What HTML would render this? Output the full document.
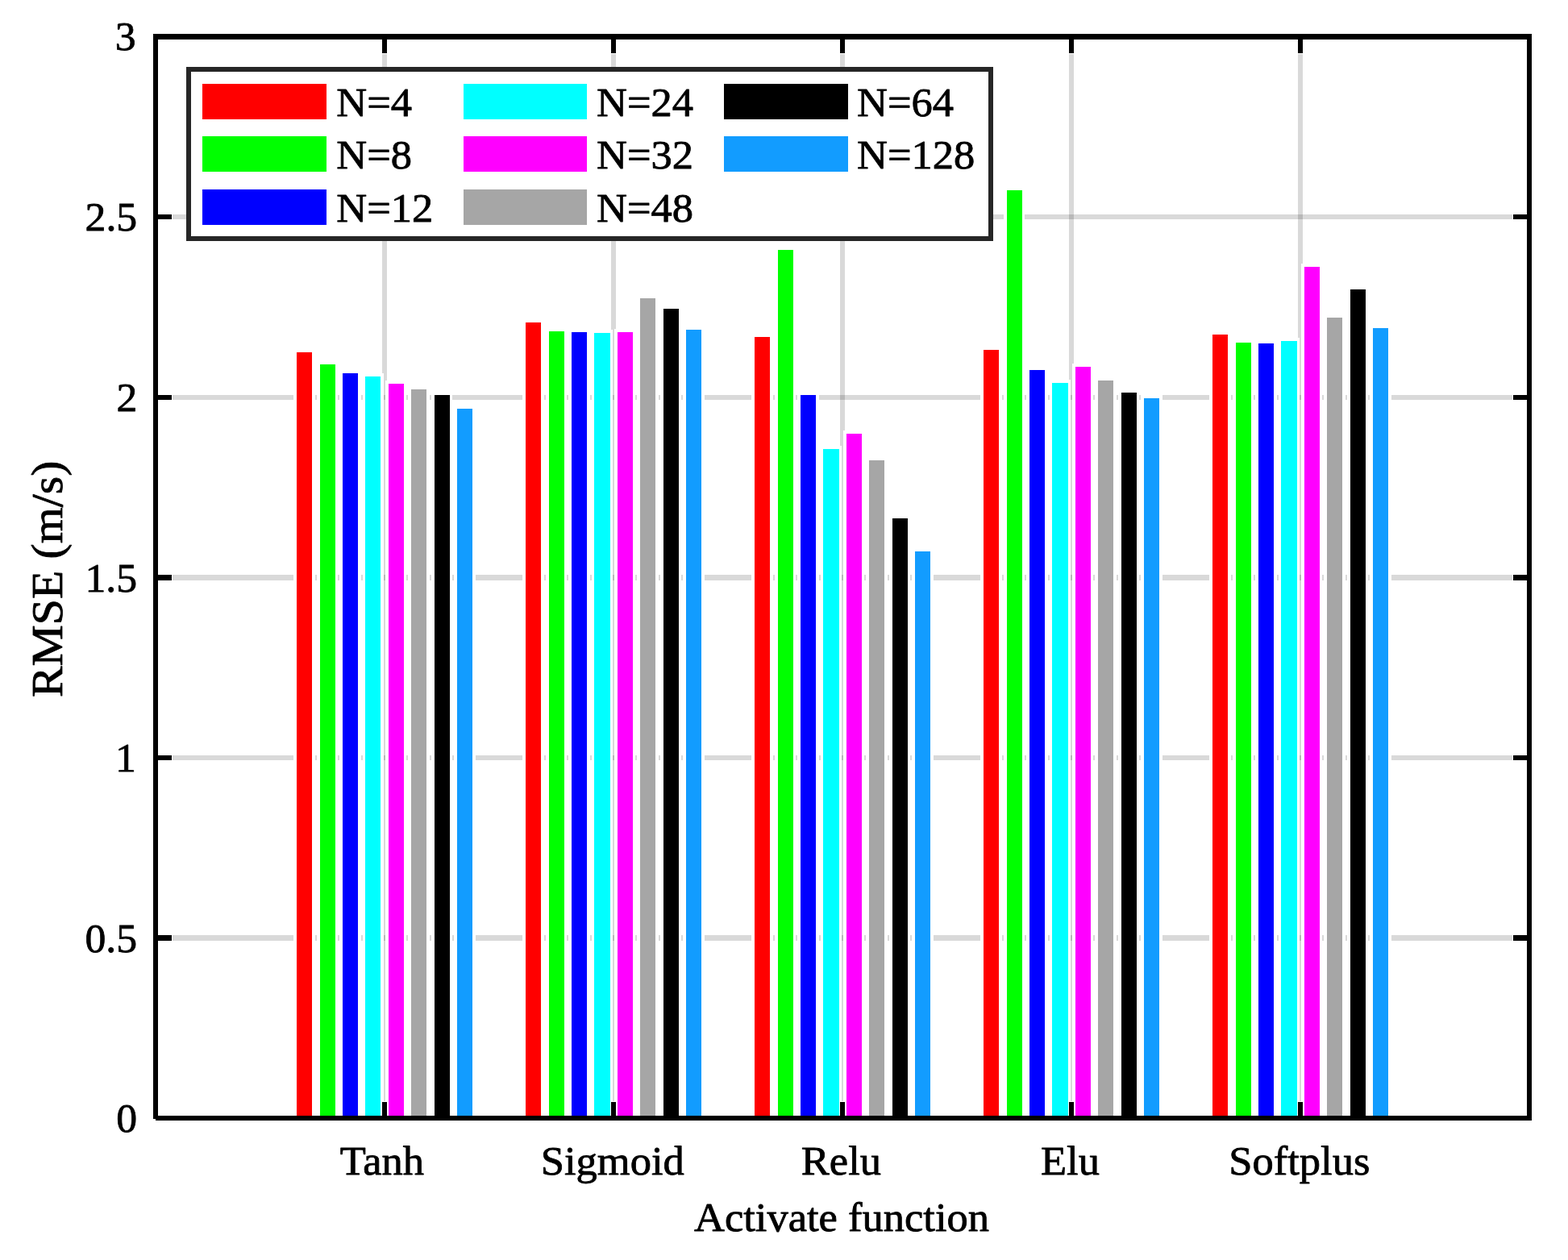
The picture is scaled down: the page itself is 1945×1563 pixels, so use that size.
<!DOCTYPE html>
<html lang="en"><head><meta charset="utf-8"><title>RMSE by activate function</title>
<style>
html,body{margin:0;padding:0;background:#fff;}
body{width:1945px;height:1563px;overflow:hidden;}
svg{display:block;}
text{font-family:"Liberation Serif", "DejaVu Serif", serif;fill:#000;stroke:#000;stroke-width:0.8px;stroke-linejoin:round;}
</style></head><body>
<svg width="1945" height="1563" viewBox="0 0 1945 1563" role="img" aria-label="RMSE (m/s) by activate function and N">
<rect x="0" y="0" width="1945" height="1563" fill="#fff"/>
<g shape-rendering="crispEdges" fill="#000" fill-opacity="0.15">
<rect x="474" y="67" width="6" height="1299"/>
<rect x="758" y="67" width="6" height="1299"/>
<rect x="1042" y="67" width="6" height="1299"/>
<rect x="1326" y="67" width="6" height="1299"/>
<rect x="1610" y="67" width="6" height="1299"/>
<rect x="214" y="1160" width="1662" height="7"/>
<rect x="214" y="937" width="1662" height="6"/>
<rect x="214" y="713" width="1662" height="7"/>
<rect x="214" y="490" width="1662" height="6"/>
<rect x="214" y="266" width="1662" height="6"/>
</g>
<g shape-rendering="crispEdges">
<rect x="364.40" y="433.30" width="26.40" height="953.70" fill="#fff"/>
<rect x="392.80" y="448.30" width="26.40" height="938.70" fill="#fff"/>
<rect x="421.20" y="459.30" width="26.40" height="927.70" fill="#fff"/>
<rect x="449.60" y="463.30" width="26.40" height="923.70" fill="#fff"/>
<rect x="478.00" y="472.30" width="26.40" height="914.70" fill="#fff"/>
<rect x="506.40" y="479.30" width="26.40" height="907.70" fill="#fff"/>
<rect x="534.80" y="486.30" width="26.40" height="900.70" fill="#fff"/>
<rect x="563.20" y="503.30" width="26.40" height="883.70" fill="#fff"/>
<rect x="648.40" y="396.30" width="26.40" height="990.70" fill="#fff"/>
<rect x="676.80" y="407.30" width="26.40" height="979.70" fill="#fff"/>
<rect x="705.20" y="408.30" width="26.40" height="978.70" fill="#fff"/>
<rect x="733.60" y="409.30" width="26.40" height="977.70" fill="#fff"/>
<rect x="762.00" y="408.30" width="26.40" height="978.70" fill="#fff"/>
<rect x="790.40" y="366.30" width="26.40" height="1020.70" fill="#fff"/>
<rect x="818.80" y="379.30" width="26.40" height="1007.70" fill="#fff"/>
<rect x="847.20" y="405.30" width="26.40" height="981.70" fill="#fff"/>
<rect x="932.40" y="414.30" width="26.40" height="972.70" fill="#fff"/>
<rect x="960.80" y="306.30" width="26.40" height="1080.70" fill="#fff"/>
<rect x="989.20" y="486.30" width="26.40" height="900.70" fill="#fff"/>
<rect x="1017.60" y="553.30" width="26.40" height="833.70" fill="#fff"/>
<rect x="1046.00" y="534.30" width="26.40" height="852.70" fill="#fff"/>
<rect x="1074.40" y="567.30" width="26.40" height="819.70" fill="#fff"/>
<rect x="1102.80" y="639.30" width="26.40" height="747.70" fill="#fff"/>
<rect x="1131.20" y="680.30" width="26.40" height="706.70" fill="#fff"/>
<rect x="1216.40" y="430.30" width="26.40" height="956.70" fill="#fff"/>
<rect x="1244.80" y="232.30" width="26.40" height="1154.70" fill="#fff"/>
<rect x="1273.20" y="455.30" width="26.40" height="931.70" fill="#fff"/>
<rect x="1301.60" y="471.30" width="26.40" height="915.70" fill="#fff"/>
<rect x="1330.00" y="451.30" width="26.40" height="935.70" fill="#fff"/>
<rect x="1358.40" y="468.30" width="26.40" height="918.70" fill="#fff"/>
<rect x="1386.80" y="483.30" width="26.40" height="903.70" fill="#fff"/>
<rect x="1415.20" y="490.30" width="26.40" height="896.70" fill="#fff"/>
<rect x="1500.40" y="411.30" width="26.40" height="975.70" fill="#fff"/>
<rect x="1528.80" y="421.30" width="26.40" height="965.70" fill="#fff"/>
<rect x="1557.20" y="422.30" width="26.40" height="964.70" fill="#fff"/>
<rect x="1585.60" y="419.30" width="26.40" height="967.70" fill="#fff"/>
<rect x="1614.00" y="327.30" width="26.40" height="1059.70" fill="#fff"/>
<rect x="1642.40" y="390.30" width="26.40" height="996.70" fill="#fff"/>
<rect x="1670.80" y="355.30" width="26.40" height="1031.70" fill="#fff"/>
<rect x="1699.20" y="403.30" width="26.40" height="983.70" fill="#fff"/>
<rect x="368" y="437" width="19" height="950.00" fill="#ff0000"/>
<rect x="397" y="452" width="19" height="935.00" fill="#00ff00"/>
<rect x="425" y="463" width="19" height="924.00" fill="#0000ff"/>
<rect x="453" y="467" width="19" height="920.00" fill="#00ffff"/>
<rect x="482" y="476" width="19" height="911.00" fill="#ff00ff"/>
<rect x="510" y="483" width="19" height="904.00" fill="#a6a6a6"/>
<rect x="539" y="490" width="19" height="897.00" fill="#000000"/>
<rect x="567" y="507" width="19" height="880.00" fill="#129cff"/>
<rect x="652" y="400" width="19" height="987.00" fill="#ff0000"/>
<rect x="681" y="411" width="19" height="976.00" fill="#00ff00"/>
<rect x="709" y="412" width="19" height="975.00" fill="#0000ff"/>
<rect x="737" y="413" width="20" height="974.00" fill="#00ffff"/>
<rect x="766" y="412" width="19" height="975.00" fill="#ff00ff"/>
<rect x="794" y="370" width="19" height="1017.00" fill="#a6a6a6"/>
<rect x="823" y="383" width="19" height="1004.00" fill="#000000"/>
<rect x="851" y="409" width="19" height="978.00" fill="#129cff"/>
<rect x="936" y="418" width="19" height="969.00" fill="#ff0000"/>
<rect x="965" y="310" width="19" height="1077.00" fill="#00ff00"/>
<rect x="993" y="490" width="19" height="897.00" fill="#0000ff"/>
<rect x="1021" y="557" width="20" height="830.00" fill="#00ffff"/>
<rect x="1050" y="538" width="19" height="849.00" fill="#ff00ff"/>
<rect x="1078" y="571" width="19" height="816.00" fill="#a6a6a6"/>
<rect x="1107" y="643" width="19" height="744.00" fill="#000000"/>
<rect x="1135" y="684" width="19" height="703.00" fill="#129cff"/>
<rect x="1220" y="434" width="19" height="953.00" fill="#ff0000"/>
<rect x="1249" y="236" width="19" height="1151.00" fill="#00ff00"/>
<rect x="1277" y="459" width="19" height="928.00" fill="#0000ff"/>
<rect x="1305" y="475" width="20" height="912.00" fill="#00ffff"/>
<rect x="1334" y="455" width="19" height="932.00" fill="#ff00ff"/>
<rect x="1362" y="472" width="19" height="915.00" fill="#a6a6a6"/>
<rect x="1391" y="487" width="19" height="900.00" fill="#000000"/>
<rect x="1419" y="494" width="19" height="893.00" fill="#129cff"/>
<rect x="1504" y="415" width="19" height="972.00" fill="#ff0000"/>
<rect x="1533" y="425" width="19" height="962.00" fill="#00ff00"/>
<rect x="1561" y="426" width="19" height="961.00" fill="#0000ff"/>
<rect x="1589" y="423" width="20" height="964.00" fill="#00ffff"/>
<rect x="1618" y="331" width="19" height="1056.00" fill="#ff00ff"/>
<rect x="1646" y="394" width="19" height="993.00" fill="#a6a6a6"/>
<rect x="1675" y="359" width="19" height="1028.00" fill="#000000"/>
<rect x="1703" y="407" width="19" height="980.00" fill="#129cff"/>
</g>
<g shape-rendering="crispEdges" fill="#000">
<rect x="190" y="42" width="1710" height="7"/>
<rect x="193" y="1384" width="1707" height="6"/>
<rect x="190" y="42" width="6" height="1346"/>
<rect x="1894" y="42" width="6" height="1348"/>
<rect x="474" y="45" width="6" height="21"/>
<rect x="474" y="1367" width="6" height="20"/>
<rect x="758" y="45" width="6" height="21"/>
<rect x="758" y="1367" width="6" height="20"/>
<rect x="1042" y="45" width="6" height="21"/>
<rect x="1042" y="1367" width="6" height="20"/>
<rect x="1326" y="45" width="6" height="21"/>
<rect x="1326" y="1367" width="6" height="20"/>
<rect x="1610" y="45" width="6" height="21"/>
<rect x="1610" y="1367" width="6" height="20"/>
<rect x="193" y="1160" width="20" height="7"/>
<rect x="1877" y="1160" width="20" height="7"/>
<rect x="193" y="937" width="20" height="6"/>
<rect x="1877" y="937" width="20" height="6"/>
<rect x="193" y="713" width="20" height="7"/>
<rect x="1877" y="713" width="20" height="7"/>
<rect x="193" y="490" width="20" height="6"/>
<rect x="1877" y="490" width="20" height="6"/>
<rect x="193" y="266" width="20" height="6"/>
<rect x="1877" y="266" width="20" height="6"/>
</g>
<g shape-rendering="crispEdges">
<rect x="234" y="86" width="995" height="210" fill="#fff" stroke="#262626" stroke-width="6"/>
<rect x="251" y="104" width="154" height="44" fill="#ff0000"/>
<rect x="251" y="169" width="154" height="44" fill="#00ff00"/>
<rect x="251" y="235" width="154" height="44" fill="#0000ff"/>
<rect x="575" y="104" width="153" height="44" fill="#00ffff"/>
<rect x="575" y="169" width="153" height="44" fill="#ff00ff"/>
<rect x="575" y="235" width="153" height="44" fill="#a6a6a6"/>
<rect x="898" y="104" width="154" height="44" fill="#000000"/>
<rect x="898" y="169" width="154" height="44" fill="#129cff"/>
</g>
<g font-size="51px">
<text transform="translate(417.3 143.5) scale(1.03 1)">N=4</text>
<text transform="translate(417.3 209.1) scale(1.03 1)">N=8</text>
<text transform="translate(417.3 274.5) scale(1.03 1)">N=12</text>
<text transform="translate(740 143.5) scale(1.03 1)">N=24</text>
<text transform="translate(740 209.1) scale(1.03 1)">N=32</text>
<text transform="translate(740 274.5) scale(1.03 1)">N=48</text>
<text transform="translate(1063 143.5) scale(1.03 1)">N=64</text>
<text transform="translate(1063 209.1) scale(1.03 1)">N=128</text>
</g>
<g font-size="51.7px" text-anchor="end">
<text transform="translate(170.2 1404.40) scale(1 1)">0</text>
<text transform="translate(170 1180.82) scale(1 1)">0.5</text>
<text transform="translate(168.8 957.23) scale(1 1)">1</text>
<text transform="translate(170 733.65) scale(1 1)">1.5</text>
<text transform="translate(170.3 509.77) scale(1 1)">2</text>
<text transform="translate(170.2 286.48) scale(1 1)">2.5</text>
<text transform="translate(168.5 62.10) scale(1 1)">3</text>
</g>
<g font-size="51px" text-anchor="middle">
<text transform="translate(474 1457.4) scale(1.03 1)">Tanh</text>
<text transform="translate(759.8 1457.4) scale(1.03 1)">Sigmoid</text>
<text transform="translate(1043.4 1457.4) scale(1.03 1)">Relu</text>
<text transform="translate(1327.5 1457.4) scale(1.03 1)">Elu</text>
<text transform="translate(1611.8 1457.4) scale(1.03 1)">Softplus</text>
</g>
<g text-anchor="middle">
<text font-size="51px" transform="translate(1044 1527.4) scale(1.03 1)">Activate function</text>
<text font-size="54.8px" transform="translate(76.6 718.3) rotate(-90) scale(1.053 1)">RMSE (m/s)</text>
</g>
</svg>
</body></html>
